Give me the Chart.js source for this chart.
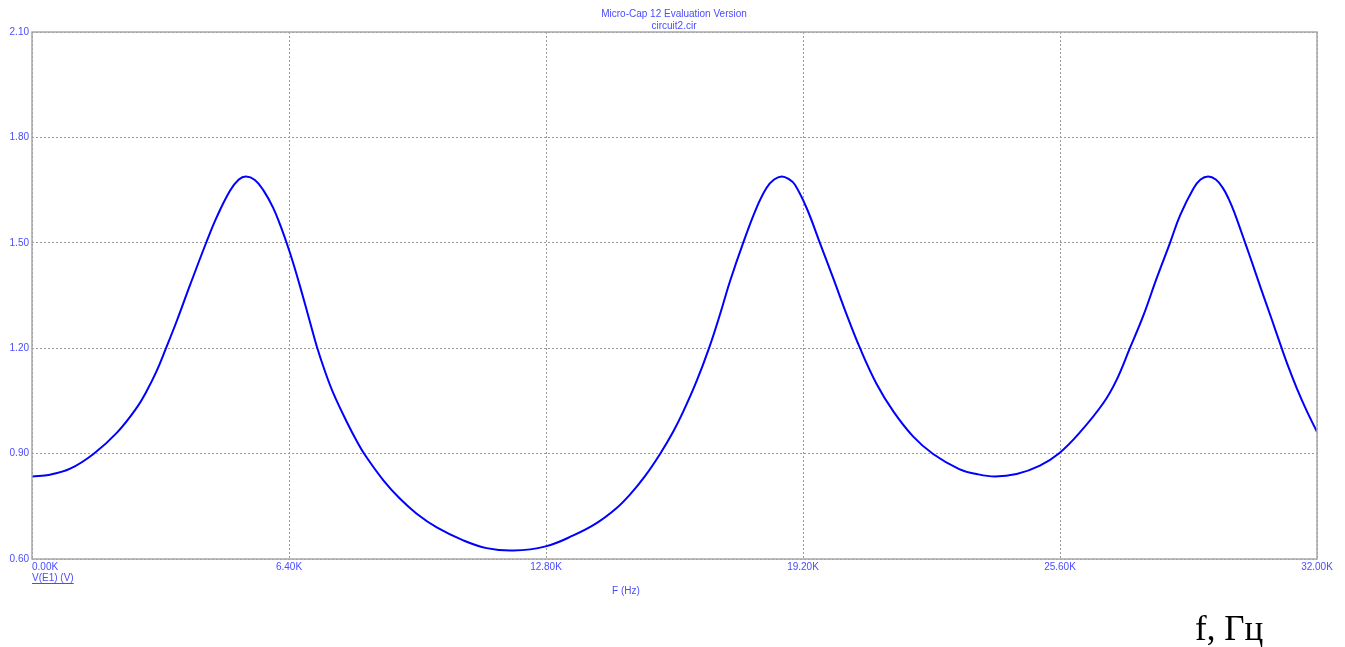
<!DOCTYPE html>
<html>
<head>
<meta charset="utf-8">
<title>V(E1) vs F</title>
<script src="https://cdn.jsdelivr.net/npm/chart.js@4/dist/chart.umd.min.js"></script>
<style>
  html, body { margin: 0; padding: 0; background: #ffffff; }
  #wrap { width: 1345px; height: 647px; }
</style>
</head>
<body>
<div id="wrap"><canvas id="plot" width="1345" height="647"></canvas></div>
<script>
// Frequency sweep samples (kHz) and output voltage V(E1) (V)
const freqK = [
  0.00, 0.45, 0.95, 1.53, 2.11, 2.61, 2.85, 3.10, 3.33, 3.60,
  3.93, 4.33, 4.60, 4.93, 5.15, 5.33, 5.55, 5.76, 6.00, 6.18,
  6.34, 6.50, 6.70, 6.90, 7.10, 7.30, 7.50, 7.84, 8.10, 8.31,
  8.75, 9.16, 9.58, 10.08, 10.74, 11.32, 11.99, 12.79, 13.48, 14.06,
  14.56, 14.89, 15.26, 15.64, 15.97, 16.22, 16.55, 16.86, 17.13, 17.38,
  17.71, 18.04, 18.29, 18.48, 18.67, 18.85, 19.00, 19.29, 19.62, 19.95,
  20.29, 20.62, 21.03, 21.45, 21.94, 22.44, 23.09, 23.52, 23.98, 24.52,
  25.10, 25.58, 26.10, 26.68, 27.01, 27.34, 27.67, 28.01, 28.34, 28.59,
  28.92, 29.10, 29.29, 29.48, 29.65, 29.80, 29.95, 30.10, 30.22, 30.40,
  30.60, 30.87, 31.12, 31.30, 31.50, 31.75, 32.00
];
const voltsE1 = [
  0.835, 0.840, 0.857, 0.899, 0.959, 1.031, 1.077, 1.134, 1.198, 1.276,
  1.378, 1.498, 1.573, 1.648, 1.680, 1.689, 1.679, 1.650, 1.601, 1.551,
  1.500, 1.444, 1.366, 1.284, 1.202, 1.133, 1.073, 0.990, 0.933, 0.893,
  0.824, 0.772, 0.729, 0.690, 0.653, 0.631, 0.624, 0.636, 0.667, 0.702,
  0.745, 0.783, 0.835, 0.899, 0.963, 1.020, 1.106, 1.200, 1.295, 1.390,
  1.500, 1.599, 1.656, 1.680, 1.689, 1.681, 1.665, 1.599, 1.500, 1.400,
  1.295, 1.200, 1.099, 1.020, 0.949, 0.899, 0.856, 0.842, 0.835, 0.842,
  0.866, 0.901, 0.961, 1.044, 1.110, 1.200, 1.291, 1.400, 1.500, 1.578,
  1.654, 1.680, 1.689, 1.680, 1.657, 1.625, 1.584, 1.536, 1.497, 1.438,
  1.371, 1.283, 1.200, 1.143, 1.085, 1.020, 0.962
];

// Axis tick values
const freqTicks = [0, 6400, 12800, 19200, 25600, 32000];
const voltTicks = [0.60, 0.90, 1.20, 1.50, 1.80, 2.10];

// Text
const titleLines = ['Micro-Cap 12 Evaluation Version', 'circuit2.cir'];
const traceLabel = 'V(E1) (V)';
const xAxisLabel = 'F (Hz)';
const unitNote = 'f, Гц';

const TEXT_BLUE = '#4b4bff';
const GRID_GRAY = '#9a9a9a';
const UI_FONT = '10px "Liberation Sans", Arial, sans-serif';

const points = freqK.map((f, i) => ({ x: f * 1000, y: voltsE1[i] }));

const annotations = {
  id: 'annotations',
  afterDraw(chart) {
    const { ctx, chartArea: a, scales: { x } } = chart;
    ctx.save();

    // plot frame
    ctx.strokeStyle = '#a8a8a8';
    ctx.lineWidth = 1.5;
    ctx.setLineDash([]);
    ctx.strokeRect(a.left, a.top, a.right - a.left, a.bottom - a.top);

    ctx.fillStyle = TEXT_BLUE;
    ctx.font = UI_FONT;
    ctx.textBaseline = 'alphabetic';

    // title
    ctx.textAlign = 'center';
    ctx.fillText(titleLines[0], 674, 17);
    ctx.fillText(titleLines[1], 674, 29);

    // frequency tick labels
    freqTicks.forEach((v, i) => {
      const px = x.getPixelForValue(v);
      const txt = (v / 1000).toFixed(2) + 'K';
      ctx.textAlign = i === 0 ? 'left' : 'center';
      ctx.fillText(txt, i === 0 ? a.left : px, 570);
    });

    // trace name, underlined
    ctx.textAlign = 'left';
    ctx.fillText(traceLabel, a.left, 581);
    const w = ctx.measureText(traceLabel).width;
    ctx.strokeStyle = TEXT_BLUE;
    ctx.lineWidth = 1;
    ctx.beginPath();
    ctx.moveTo(a.left, 583.5);
    ctx.lineTo(a.left + w, 583.5);
    ctx.stroke();

    // x axis name
    ctx.textAlign = 'center';
    ctx.fillText(xAxisLabel, 626, 594);

    // unit note
    ctx.fillStyle = '#000000';
    ctx.textAlign = 'left';
    ctx.font = '35px "Liberation Serif", "Times New Roman", serif';
    ctx.fillText(unitNote, 1195, 640);

    ctx.restore();
  }
};

new Chart(document.getElementById('plot'), {
  type: 'line',
  data: {
    datasets: [{
      data: points,
      borderColor: '#0000ff',
      borderWidth: 2,
      pointRadius: 0,
      fill: false,
      tension: 0.4
    }]
  },
  options: {
    responsive: false,
    animation: false,
    devicePixelRatio: 1,
    layout: { padding: { top: 32, right: 28, left: 0, bottom: 0 } },
    plugins: {
      legend: { display: false },
      title: { display: false },
      tooltip: { enabled: false }
    },
    scales: {
      x: {
        type: 'linear',
        min: 0,
        max: 32000,
        afterBuildTicks: (s) => { s.ticks = freqTicks.map(v => ({ value: v })); },
        afterFit: (s) => { s.height = 88; },
        ticks: { display: false },
        grid: { color: GRID_GRAY, lineWidth: 1, drawTicks: false },
        border: { display: false, dash: [2, 2] }
      },
      y: {
        type: 'linear',
        min: 0.6,
        max: 2.1,
        afterBuildTicks: (s) => { s.ticks = voltTicks.map(v => ({ value: v })); },
        afterFit: (s) => { s.width = 32; },
        ticks: {
          color: TEXT_BLUE,
          font: { family: '"Liberation Sans", Arial, sans-serif', size: 10 },
          padding: 3,
          callback: (v) => Number(v).toFixed(2)
        },
        grid: { color: GRID_GRAY, lineWidth: 1, drawTicks: false },
        border: { display: false, dash: [2, 2] }
      }
    }
  },
  plugins: [annotations]
});
</script>
</body>
</html>
